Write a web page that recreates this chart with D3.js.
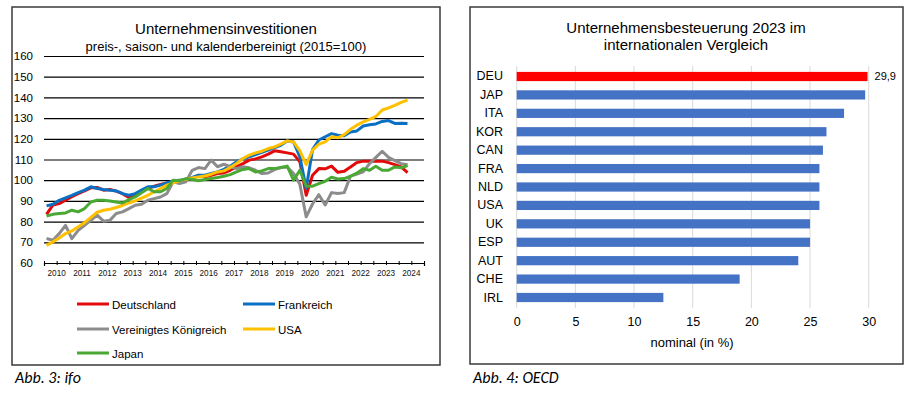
<!DOCTYPE html>
<html>
<head>
<meta charset="utf-8">
<script src="https://d3js.org/d3.v7.min.js"></script>
<style>
body { margin: 0; background: #fff; }
svg { font-family: Arial, "Liberation Sans", sans-serif; }
.caption { font-family: Carlito, Lato, "Open Sans", sans-serif; font-style: italic; font-size: 16px; }
</style>
</head>
<body>
<svg id="chart" width="913" height="398"></svg>
<script>
// ---- left chart: Unternehmensinvestitionen, quarterly 2010Q1 .. 2024Q2 (2015=100)
var years = d3.range(2010, 2025);
var yTicks = [60, 70, 80, 90, 100, 110, 120, 130, 140, 150, 160];

var deutschland = [83.5, 88, 88.7, 90.3, 92, 93.5, 94.8, 96.3, 96.5, 95.2, 95.5, 94.7, 93.5, 91.6, 92.7, 94.4,
  96, 97.1, 98, 98.7, 99.2, 99.7, 100.3, 100.8, 102.4, 101.6, 102.4, 103.2,
  103.5, 104.8, 106.5, 108, 109.7, 110.3, 111.3, 112.6, 114.2, 113.7, 113.2, 112.6, 108.9, 92.7, 102.4, 105.6,
  105.5, 106.8, 103.8, 104.3, 106.4, 108.5, 109.2, 109.2, 109.2, 109.2, 108.5, 107.5, 106.4, 103.7];
var frankreich = [87.6, 88.4, 90.3, 91.5, 92.7, 94, 95.2, 96.8, 96, 95.5, 95.2, 94.8, 93.5, 92.7, 93.5, 95.2,
  96.8, 96.8, 97.6, 98.7, 99.7, 100, 100.3, 101.3, 102.4, 102.4, 103.2, 104,
  105.2, 106.8, 108.9, 110.3, 111.3, 112.4, 113.5, 114.5, 115.8, 116.9, 118.9, 118.5, 111.3, 96, 114.8, 119.4,
  121, 122.5, 121.7, 121.5, 123.3, 123.8, 126.2, 126.8, 127.2, 128.4, 128.8, 127.4, 127.5, 127.4];
var vereinigtesKoenigreich = [71.8, 71, 74.2, 78.2, 71.8, 75.8, 78.2, 80.6, 83.1, 80.2, 80.6, 83.9, 84.7, 86.3, 87.9, 88.4,
  90.3, 91.1, 91.9, 93.5, 99.2, 98.4, 99.2, 104.8, 106.1, 105.6, 109.7, 106.5,
  107.7, 106.5, 105.6, 106.5, 106, 104.8, 103.2, 103.5, 105.1, 106.1, 106.4, 103.2, 98, 82.3, 88.5, 93,
  88, 94, 93.6, 94, 102, 103, 104, 108, 111, 114, 111, 109.5, 108, 107.5];
var usa = [68.5, 70.2, 72.1, 74.2, 75.5, 77.5, 79.5, 82, 84.5, 85.5, 86, 86.8, 87.8, 89, 90, 91.3,
  92.7, 94.4, 96, 97.6, 98.7, 99.7, 100.5, 101.1, 101.6, 102, 102.9, 104,
  104.5, 106.1, 108.1, 110.5, 112.1, 113.2, 114, 115.3, 116.1, 117.4, 119, 118.5, 114.2, 107.5, 114.5, 117.4,
  118.5, 121, 120.5, 122, 124.6, 126.6, 128.2, 129.4, 130.8, 133.9, 134.9, 136.2, 137.6, 138.7];
var japan = [82.7, 83.5, 83.9, 84.2, 85.5, 84.7, 86.3, 89.5, 90.3, 90.3, 90, 89.5, 89, 90.6, 91.9, 93.9,
  96, 94.4, 94.4, 96, 100, 99.7, 100.8, 100.3, 99.7, 100.3, 100.8, 101.3,
  101.9, 102.7, 104, 105.2, 105.6, 104, 104.5, 105.6, 105.6, 106.1, 106.8, 100, 104.8, 97.1, 97.1, 98.4,
  99.5, 101.4, 100.6, 100.8, 101.9, 103.4, 105.6, 104.8, 106.7, 104.8, 104.8, 106.4, 106, 107.1];

var seriesNames = ["Deutschland", "Frankreich", "Vereinigtes Königreich", "USA", "Japan"];
var seriesValues = [deutschland, frankreich, vereinigtesKoenigreich, usa, japan];
var seriesColors = ["#e30a0a", "#0a70c4", "#8c8c8c", "#ffc000", "#4aa834"];
var drawOrder = [0, 1, 2, 3, 4];

// ---- right chart: Unternehmensbesteuerung 2023 (nominal, %)
var countries = ["DEU", "JAP", "ITA", "KOR", "CAN", "FRA", "NLD", "USA", "UK", "ESP", "AUT", "CHE", "IRL"];
var taxRates = [29.9, 29.7, 27.9, 26.4, 26.1, 25.8, 25.8, 25.8, 25.0, 25.0, 24.0, 19.0, 12.5];
var xTicksTax = [0, 5, 10, 15, 20, 25, 30];

var svg = d3.select("#chart");

// quarter position: year + quarter offset
function quarterTime(i) { return 2010 + Math.floor(i / 4) + (i % 4) / 4 + 0.1; }

// ================= left panel =================
var L = svg.append("g");
L.append("rect").attr("x", 12).attr("y", 7).attr("width", 428).attr("height", 358)
  .attr("fill", "#fff").attr("stroke", "#3a3a3a").attr("stroke-width", 1.5);

L.append("text").attr("x", 226).attr("y", 34).attr("text-anchor", "middle")
  .attr("font-size", 15).text("Unternehmensinvestitionen");
L.append("text").attr("x", 226).attr("y", 51).attr("text-anchor", "middle")
  .attr("font-size", 13).text("preis-, saison- und kalenderbereinigt (2015=100)");

var x = d3.scaleLinear().domain([2010, 2025]).range([44, 424]);
var y = d3.scaleLinear().domain([60, 160]).range([263, 56]);

// horizontal gridlines + y labels
var yAxis = d3.axisLeft(y).tickValues(yTicks).tickSize(-(424 - 44)).tickPadding(11);
var gy = L.append("g").attr("transform", "translate(44,0)").call(yAxis);
gy.select(".domain").remove();
gy.selectAll(".tick line").attr("stroke", "#000").attr("stroke-width", 1.2);
gy.selectAll(".tick text").attr("font-size", 11.5).attr("fill", "#000")
  .attr("font-family", "Arial, 'Liberation Sans', sans-serif").attr("x", -11);

// x axis: half-year tick marks, year labels in between
var halfYears = d3.range(2010, 2025.01, 0.5);
var xAxis = d3.axisBottom(x).tickValues(halfYears).tickSize(3).tickFormat("");
var gx = L.append("g").attr("transform", "translate(0,263)").call(xAxis);
gx.select(".domain").attr("stroke", "#000").attr("stroke-width", 1.2);
gx.selectAll(".tick line").attr("stroke", "#000").attr("y1", -2).attr("y2", 2);
L.append("g").selectAll("text").data(years).join("text")
  .attr("x", function(d) { return x(d + 0.5); }).attr("y", 276)
  .attr("text-anchor", "middle").attr("font-size", 8.2).attr("fill", "#111")
  .text(function(d) { return d; });

var line = d3.line()
  .x(function(d, i) { return x(quarterTime(i)); })
  .y(function(d) { return y(d); });

L.append("g").selectAll("path").data(drawOrder).join("path")
  .attr("d", function(k) { return line(seriesValues[k]); })
  .attr("fill", "none").attr("stroke", function(k) { return seriesColors[k]; })
  .attr("stroke-width", 3).attr("stroke-linejoin", "round");

// legend
var legendPos = [[77, 304], [243, 304], [77, 329], [243, 329], [77, 353]];
var lg = L.append("g").selectAll("g").data(seriesNames).join("g")
  .attr("transform", function(d, i) { return "translate(" + legendPos[i][0] + "," + legendPos[i][1] + ")"; });
lg.append("line").attr("x1", 0).attr("x2", 32).attr("y1", 0).attr("y2", 0)
  .attr("stroke", function(d, i) { return seriesColors[i]; }).attr("stroke-width", 3);
lg.append("text").attr("x", 35).attr("y", 4.5).attr("font-size", 11.5).text(function(d) { return d; });

svg.append("text").attr("class", "caption").attr("x", 15).attr("y", 383).text("Abb. 3: ifo");

// ================= right panel =================
var R = svg.append("g");
R.append("rect").attr("x", 470).attr("y", 7).attr("width", 433).attr("height", 357)
  .attr("fill", "#fff").attr("stroke", "#3a3a3a").attr("stroke-width", 1.5);

R.append("text").attr("x", 686).attr("y", 33).attr("text-anchor", "middle")
  .attr("font-size", 15).text("Unternehmensbesteuerung 2023 im");
R.append("text").attr("x", 686).attr("y", 50).attr("text-anchor", "middle")
  .attr("font-size", 15).text("internationalen Vergleich");

var xt = d3.scaleLinear().domain([0, 30]).range([516.7, 868.7]);
var yb = d3.scaleBand().domain(countries).range([66, 308]).paddingInner(0.5).paddingOuter(0.32);

// vertical gridlines
R.append("g").selectAll("line").data(xTicksTax).join("line")
  .attr("x1", function(d) { return xt(d); }).attr("x2", function(d) { return xt(d); })
  .attr("y1", 66).attr("y2", 308).attr("stroke", "#d9d9d9").attr("stroke-width", 1);

var xAxisT = d3.axisBottom(xt).tickValues(xTicksTax).tickSize(0).tickPadding(0);
var gxt = R.append("g").attr("transform", "translate(0,314)").call(xAxisT);
gxt.select(".domain").remove();
gxt.selectAll(".tick text").attr("font-size", 12.5).attr("fill", "#000")
  .attr("font-family", "Arial, 'Liberation Sans', sans-serif").attr("dy", "0.95em");

R.append("text").attr("x", 692).attr("y", 347).attr("text-anchor", "middle")
  .attr("font-size", 13).text("nominal (in %)");

var yAxisT = d3.axisLeft(yb).tickSize(0).tickPadding(0);
var gyt = R.append("g").attr("transform", "translate(503,0)").call(yAxisT);
gyt.select(".domain").remove();
gyt.selectAll(".tick text").attr("font-size", 12.5).attr("fill", "#000")
  .attr("font-family", "Arial, 'Liberation Sans', sans-serif");

R.append("g").selectAll("rect").data(countries).join("rect")
  .attr("x", xt(0))
  .attr("y", function(d) { return yb(d); })
  .attr("width", function(d, i) { return xt(taxRates[i]) - xt(0); })
  .attr("height", yb.bandwidth())
  .attr("fill", function(d) { return d === "DEU" ? "#ff0000" : "#4472c4"; });

R.append("text").attr("x", xt(taxRates[0]) + 7).attr("y", yb("DEU") + yb.bandwidth() / 2 + 4)
  .attr("font-size", 11).text(String(taxRates[0]).replace(".", ","));

svg.append("text").attr("class", "caption").attr("x", 473).attr("y", 383).text("Abb. 4: OECD");
</script>
</body>
</html>
